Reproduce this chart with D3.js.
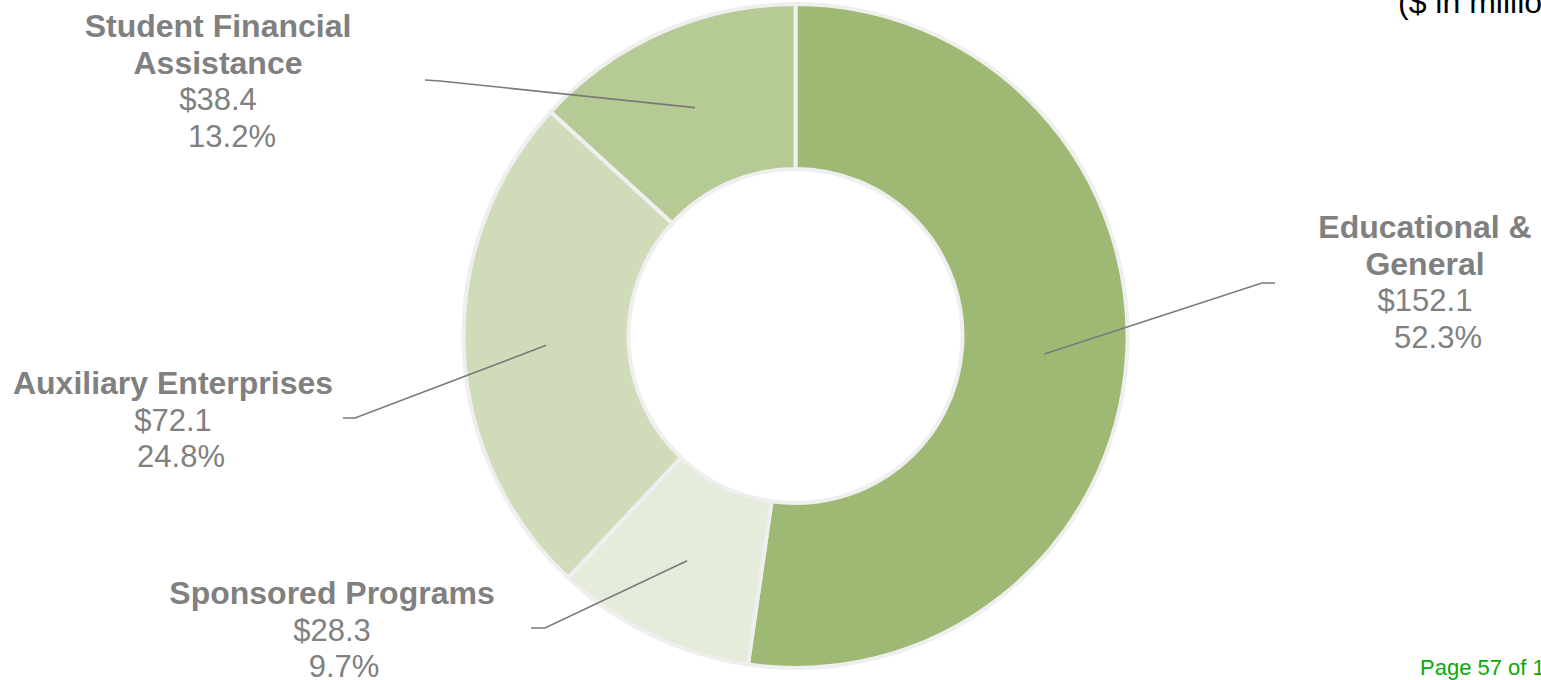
<!DOCTYPE html>
<html>
<head>
<meta charset="utf-8">
<script src="https://cdn.jsdelivr.net/npm/d3@7"></script>
<style>
  html, body { margin: 0; padding: 0; background: #ffffff; overflow: hidden; }
  svg { display: block; font-family: "Liberation Sans", Arial, sans-serif; }
</style>
</head>
<body>
<svg id="chart" width="1541" height="680"></svg>
<script>
// ---- data ----
const categories = ["Educational & General", "Sponsored Programs", "Auxiliary Enterprises", "Student Financial Assistance"];
const values = [152.1, 28.3, 72.1, 38.4];
const percents = ["52.3%", "9.7%", "24.8%", "13.2%"];
const nameLines = [["Educational &", "General"], ["Sponsored Programs"], ["Auxiliary Enterprises"], ["Student Financial", "Assistance"]];
const colors = ["#9eb973", "#e5ecdb", "#cfdbb9", "#b6ca96"];

// ---- layout (label placement) ----
const labelLayout = [
  { cx: 1425, y0: 238, elbow: [1262, 283], end: [1275, 283], pctDx: 13 },
  { cx: 332,  y0: 604, elbow: [545, 628],  end: [531, 628],  pctDx: 12 },
  { cx: 173,  y0: 394, elbow: [355, 418],  end: [343, 418],  pctDx: 8 },
  { cx: 218,  y0: 37,  elbow: [440, 81],   end: [425, 80],   pctDx: 14 }
];

const W = 1541, H = 680;
const cx = 795.5, cy = 336;
const outerR = 332, innerR = 167;
const lineH = 36.5;

const svg = d3.select("#chart");
const g = svg.append("g").attr("transform", `translate(${cx},${cy})`);

const data = categories.map((c, i) => ({ name: c, value: values[i], i }));
const pie = d3.pie().value(d => d.value).sort(null);
const arc = d3.arc().innerRadius(innerR).outerRadius(outerR);
const arcs = pie(data);

g.selectAll("path.slice")
  .data(arcs)
  .join("path")
  .attr("class", "slice")
  .attr("d", arc)
  .attr("fill", d => colors[d.data.i])
  .attr("stroke", "#efefef")
  .attr("stroke-width", 4)
  .attr("stroke-linejoin", "round");

// leader lines
svg.selectAll("polyline.leader")
  .data(arcs)
  .join("polyline")
  .attr("class", "leader")
  .attr("points", d => {
    const c = arc.centroid(d);
    const L = labelLayout[d.data.i];
    return [[c[0] + cx, c[1] + cy], L.elbow, L.end].map(p => p.join(",")).join(" ");
  })
  .attr("fill", "none")
  .attr("stroke", "#7a7a7a")
  .attr("stroke-width", 1.6);

// labels
arcs.forEach(d => {
  const i = d.data.i;
  const L = labelLayout[i];
  const t = svg.append("text")
    .attr("text-anchor", "middle")
    .attr("fill", "#808080")
    .attr("font-size", 31);
  let k = 0;
  nameLines[i].forEach(s => {
    t.append("tspan").attr("x", L.cx).attr("y", L.y0 + lineH * k)
      .attr("font-weight", "bold").attr("font-size", 32).text(s);
    k++;
  });
  t.append("tspan").attr("x", L.cx).attr("y", L.y0 + lineH * k).text("$" + d3.format(".1f")(values[i]));
  k++;
  t.append("tspan").attr("x", L.cx + L.pctDx).attr("y", L.y0 + lineH * k).text(percents[i]);
});

// unit note (cut at top right)
svg.append("text")
  .attr("x", 1398).attr("y", 13)
  .attr("font-size", 32)
  .attr("fill", "#000000")
  .text("($ in millions)");

// page footer
svg.append("text")
  .attr("x", 1420).attr("y", 675)
  .attr("font-size", 22)
  .attr("fill", "#0aaa0a")
  .text("Page 57 of 142");
</script>
</body>
</html>
